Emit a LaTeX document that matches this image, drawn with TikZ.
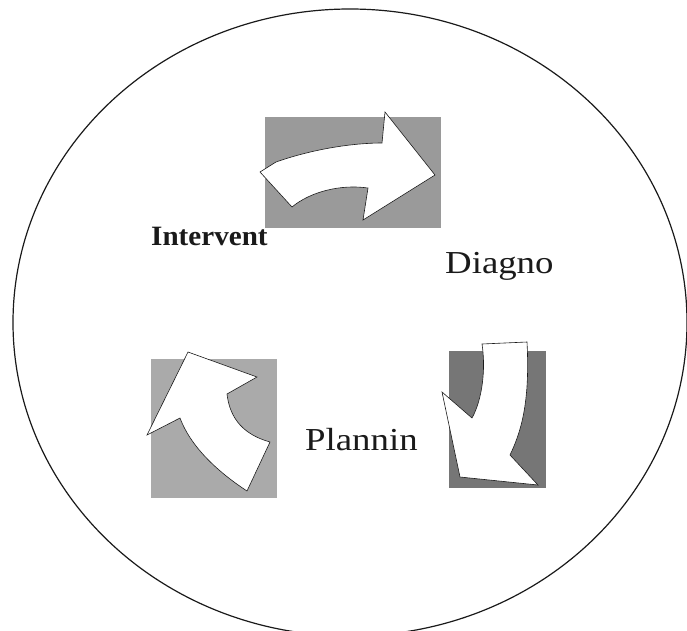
\documentclass[tikz,border=0pt]{standalone}
\usepackage{fontspec}
\setmainfont[FakeStretch=1.15]{Liberation Serif}
\newfontfamily\intfont[FakeStretch=1.04]{Liberation Serif}
\usepackage{tikz}
\usetikzlibrary{positioning}
\definecolor{ScanGray}{HTML}{9A9A9A}
\definecolor{PaleGray}{HTML}{AAAAAA}
\definecolor{DarkGray}{HTML}{767676}
\definecolor{InkBlack}{HTML}{1A1A1A}
\tikzset{
  % Halftone square behind each arrow
  tile/.style={
    rectangle, draw=none, fill=#1,
    inner sep=0pt, outer sep=0pt
  },
  % White block arrow
  blockarr/.style={
    fill=white, draw=InkBlack, line width=0.6pt, line join=miter
  },
  % Stage label
  stage/.style={
    inner sep=0pt, anchor=base west, text=InkBlack,
    font=\fontsize{32}{32}\selectfont
  }
}

\begin{document}
\begin{tikzpicture}[x=1pt, y=-1pt]

  \useasboundingbox (0,0) rectangle (687,630);
  \fill[white] (0,0) rectangle (687,630);

  % Outer cycle
  \draw[InkBlack, line width=1.2pt] (350,322.5) ellipse [x radius=337, y radius=313.5];

  % Squares
  \node[tile=ScanGray, minimum width=176pt, minimum height=111pt] (diagbox) at (353,172.5) {};
  \node[tile=DarkGray, minimum width=97pt,  minimum height=137pt] (planbox) at (497.5,419.5) {};
  \node[tile=PaleGray, minimum width=126pt, minimum height=139pt] (intbox)  at (214,428.5) {};

  % Arrows
  \draw[blockarr] (260,172) -- (276,162) .. controls (310,150) and (350,143) .. (382,143)
    -- (385,112) -- (435,175) -- (363,220) -- (368,188)
    .. controls (340,184) and (310,192) .. (292,207) -- cycle;
  \draw[blockarr] (482,344) -- (527,342) .. controls (530,400) and (522,430) .. (510,455)
    -- (538,485) -- (460,477) -- (442,392) -- (472,418)
    .. controls (482,400) and (486,370) .. (482,344) -- cycle;
  \draw[blockarr] (188,352) -- (257,377) -- (227,394) .. controls (230,420) and (245,435) .. (270,442)
    -- (247,491) .. controls (215,470) and (190,445) .. (180,418) -- (147,435) -- cycle;

  % Labels
  \node[stage, font=\intfont\fontsize{28}{28}\selectfont\bfseries] (intlbl) at (151,245) {Intervent};
  \node[stage] (diaglbl) at (445,273) {Diagno};
  \node[stage] (planlbl) at (305,450) {Plannin};

\end{tikzpicture}
\end{document}
